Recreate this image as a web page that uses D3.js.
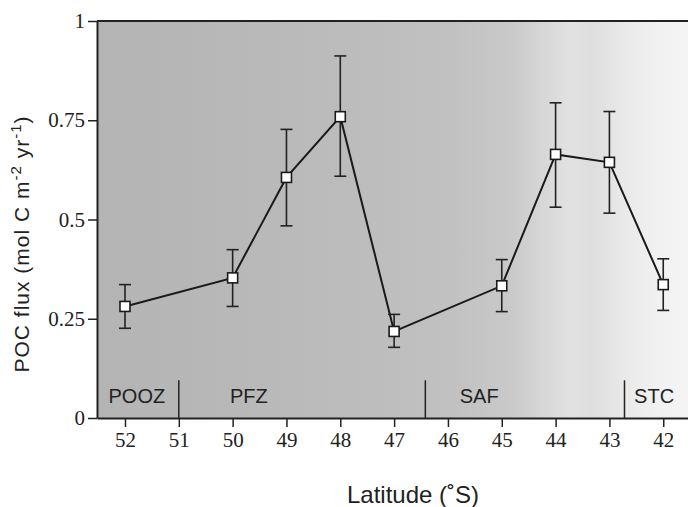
<!DOCTYPE html>
<html>
<head>
<meta charset="utf-8">
<script src="https://d3js.org/d3.v7.min.js"></script>
<style>
  body { margin: 0; background: #fff; }
  .tick text { font-family: "Liberation Serif", "DejaVu Serif", serif; fill: #222; }
</style>
</head>
<body>
<div id="chart"></div>
<script>
// data
var latitude = [52, 50, 49, 48, 47, 45, 44, 43, 42];
var pocFlux  = [0.281, 0.353, 0.606, 0.759, 0.218, 0.333, 0.664, 0.644, 0.336];
var errTop   = [0.336, 0.424, 0.727, 0.912, 0.261, 0.399, 0.794, 0.772, 0.401];
var errBot   = [0.226, 0.281, 0.484, 0.609, 0.178, 0.268, 0.531, 0.516, 0.271];

var xTicks = [52, 51, 50, 49, 48, 47, 46, 45, 44, 43, 42];
var yTicks = [0, 0.25, 0.5, 0.75, 1];
var yTickLabels = ["0", "0.25", "0.5", "0.75", "1"];

// zone boundaries (latitude) and zone names with their centre latitude
var zoneBounds = [51, 46.42, 42.72];
var zoneNames  = ["POOZ", "PFZ", "SAF", "STC"];
var zoneCentre = [51.78, 49.7, 45.42, 42.17];

// background shading stops: position along x (0..1) and grey level
var shadeOffset = [0, 0.35, 0.6, 0.7, 0.76, 0.8, 0.84, 0.89, 0.95, 1];
var shadeColor  = ["#b4b4b4", "#bababa", "#c1c1c1", "#c9c9c9", "#d8d8d8", "#e2e2e2", "#dedede", "#e9e9e9", "#f1f1f1", "#f4f4f4"];

var margin = {top: 21, right: 0, bottom: 88, left: 97},
    width = 688 - margin.left - margin.right,
    height = 507 - margin.top - margin.bottom;

var svg = d3.select("#chart").append("svg")
  .attr("width", 688).attr("height", 507);

var defs = svg.append("defs");
var grad = defs.append("linearGradient").attr("id", "shade")
  .attr("x1", "0%").attr("x2", "100%").attr("y1", "0%").attr("y2", "0%");
grad.selectAll("stop").data(shadeOffset).enter().append("stop")
  .attr("offset", function(d) { return (d * 100) + "%"; })
  .attr("stop-color", function(d, i) { return shadeColor[i]; });

var g = svg.append("g").attr("transform", "translate(" + margin.left + "," + margin.top + ")");

// scales
var x = d3.scaleLinear().domain([52.52, 41.54]).range([0, width]);
var y = d3.scaleLinear().domain([0, 1]).range([height - 1, 0]);

// shaded background
g.append("rect").attr("x", 0).attr("y", 0).attr("width", width).attr("height", y(0))
  .attr("fill", "url(#shade)");

// top border
g.append("line").attr("x1", 0).attr("x2", width).attr("y1", 0).attr("y2", 0)
  .attr("stroke", "#222").attr("stroke-width", 2);

// x axis
var xAxis = g.append("g").attr("transform", "translate(0," + y(0) + ")")
  .call(d3.axisBottom(x).tickValues(xTicks).tickFormat(d3.format("d")).tickSizeInner(9).tickSizeOuter(0).tickPadding(5));
xAxis.select(".domain").attr("stroke", "#222").attr("stroke-width", 2);
xAxis.selectAll(".tick line").attr("stroke", "#222").attr("stroke-width", 1.5);
xAxis.selectAll(".tick text").style("font-size", "21px");

// y axis
var yAxis = g.append("g")
  .call(d3.axisLeft(y).tickValues(yTicks).tickFormat(function(d, i) { return yTickLabels[i]; }).tickSizeInner(9).tickSizeOuter(0).tickPadding(3));
yAxis.select(".domain").attr("stroke", "#222").attr("stroke-width", 2);
yAxis.selectAll(".tick line").attr("stroke", "#222").attr("stroke-width", 1.5);
yAxis.selectAll(".tick text").style("font-size", "21px");

// zone dividers and names
g.selectAll(".zoneline").data(zoneBounds).enter().append("line")
  .attr("x1", function(d) { return x(d); }).attr("x2", function(d) { return x(d); })
  .attr("y1", y(0.095)).attr("y2", y(0))
  .attr("stroke", "#222").attr("stroke-width", 1.5);
g.selectAll(".zonename").data(zoneNames).enter().append("text")
  .attr("x", function(d, i) { return x(zoneCentre[i]); })
  .attr("y", y(0.037))
  .attr("text-anchor", "middle")
  .style("font-family", "Liberation Sans, Arial, sans-serif")
  .style("font-size", "20px").style("fill", "#222")
  .text(function(d) { return d; });

// error bars
var capW = 6;
var bars = g.selectAll(".err").data(latitude).enter().append("g");
bars.append("line")
  .attr("x1", function(d) { return x(d); }).attr("x2", function(d) { return x(d); })
  .attr("y1", function(d, i) { return y(errTop[i]); }).attr("y2", function(d, i) { return y(errBot[i]); })
  .attr("stroke", "#222").attr("stroke-width", 1.6);
bars.append("line")
  .attr("x1", function(d) { return x(d) - capW; }).attr("x2", function(d) { return x(d) + capW; })
  .attr("y1", function(d, i) { return y(errTop[i]); }).attr("y2", function(d, i) { return y(errTop[i]); })
  .attr("stroke", "#222").attr("stroke-width", 1.6);
bars.append("line")
  .attr("x1", function(d) { return x(d) - capW; }).attr("x2", function(d) { return x(d) + capW; })
  .attr("y1", function(d, i) { return y(errBot[i]); }).attr("y2", function(d, i) { return y(errBot[i]); })
  .attr("stroke", "#222").attr("stroke-width", 1.6);

// connecting line
var line = d3.line().x(function(d) { return x(d[0]); }).y(function(d) { return y(d[1]); });
g.append("path").datum(latitude.map(function(d, i) { return [d, pocFlux[i]]; }))
  .attr("d", line).attr("fill", "none").attr("stroke", "#1a1a1a").attr("stroke-width", 2);

// square markers
var sq = 10;
g.selectAll(".pt").data(latitude).enter().append("rect")
  .attr("x", function(d) { return x(d) - sq / 2; })
  .attr("y", function(d, i) { return y(pocFlux[i]) - sq / 2; })
  .attr("width", sq).attr("height", sq)
  .attr("fill", "#fff").attr("stroke", "#1a1a1a").attr("stroke-width", 1.6);

// axis titles
var yt = svg.append("text")
  .attr("transform", "translate(29," + 244 + ") rotate(-90)")
  .attr("text-anchor", "middle")
  .style("font-family", "Liberation Sans, Arial, sans-serif")
  .style("font-size", "21px").style("letter-spacing", "1px").style("fill", "#222");
yt.append("tspan").text("POC flux (mol C m");
yt.append("tspan").attr("dy", -8).style("font-size", "15px").text("-2");
yt.append("tspan").attr("dy", 8).text(" yr");
yt.append("tspan").attr("dy", -8).style("font-size", "15px").text("-1");
yt.append("tspan").attr("dy", 8).text(")");

svg.append("text")
  .attr("x", 413).attr("y", 503)
  .attr("text-anchor", "middle")
  .style("font-family", "Liberation Sans, Arial, sans-serif")
  .style("font-size", "24px").style("fill", "#222")
  .text("Latitude (\u02DAS)");
</script>
</body>
</html>
